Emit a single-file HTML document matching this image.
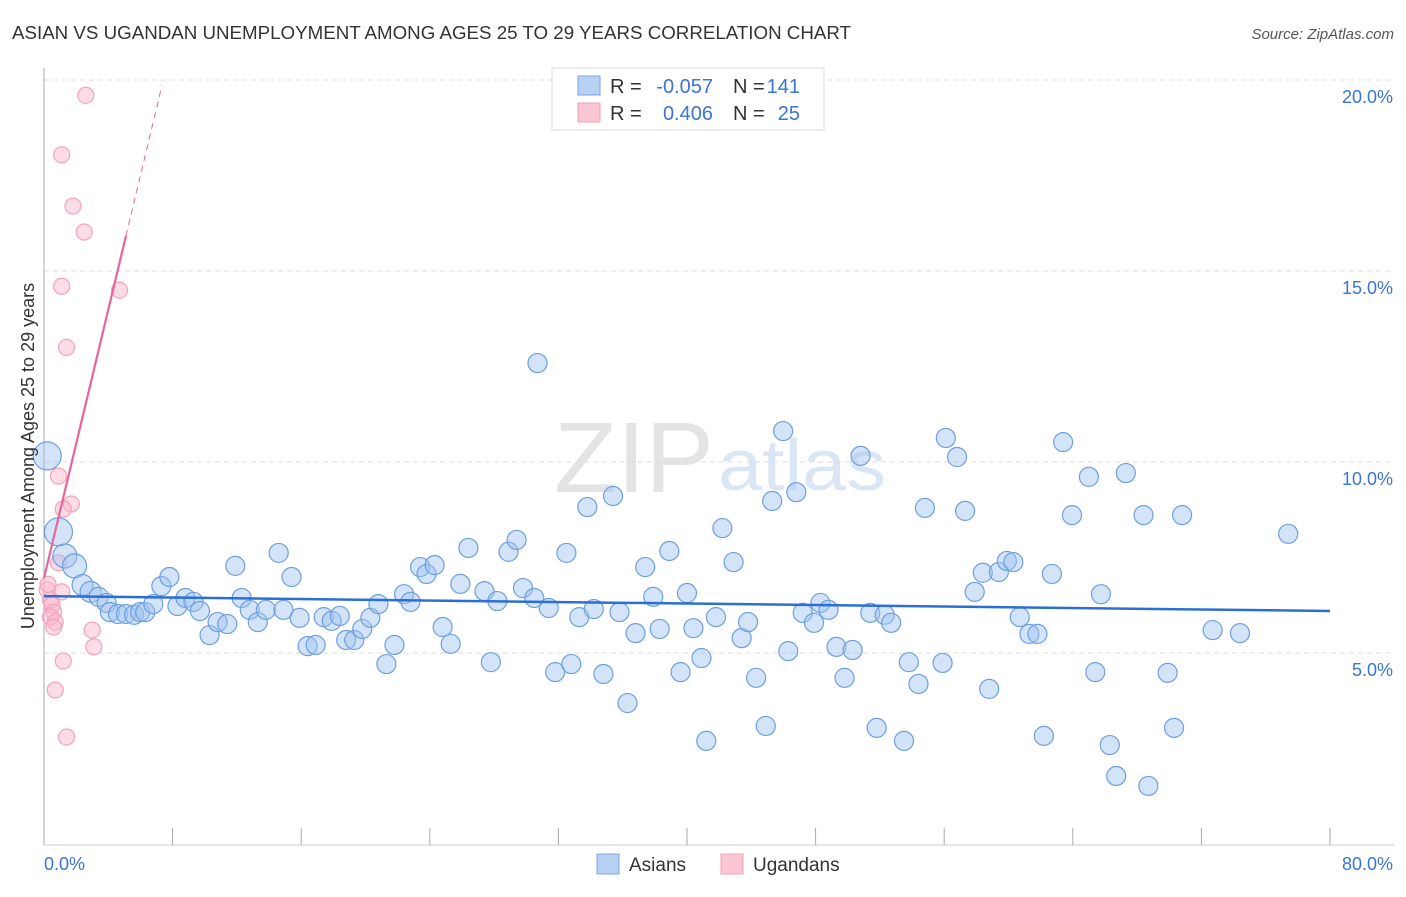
<!DOCTYPE html>
<html><head><meta charset="utf-8"><style>
body{margin:0;background:#fff;font-family:"Liberation Sans",sans-serif;}
svg text{font-family:"Liberation Sans",sans-serif;}
</style></head><body>
<svg id="chart" width="1406" height="892" xmlns="http://www.w3.org/2000/svg">
<text x="12" y="39" font-size="18" fill="#333" textLength="839" lengthAdjust="spacingAndGlyphs">ASIAN VS UGANDAN UNEMPLOYMENT AMONG AGES 25 TO 29 YEARS CORRELATION CHART</text>
<text x="1394" y="39" font-size="15" fill="#555" text-anchor="end" font-style="italic">Source: ZipAtlas.com</text>
<text x="714" y="492" font-size="100" fill="#e4e4e4" text-anchor="end" font-family="Liberation Serif" textLength="160" lengthAdjust="spacingAndGlyphs">ZIP</text>
<text x="718" y="490" font-size="72" fill="#dbe6f5" textLength="168" lengthAdjust="spacingAndGlyphs">atlas</text>
<g id="grid"></g><g id="axes"></g><g id="pink"></g><g id="blue"></g><g id="lines"></g>
<text transform="translate(34,456) rotate(-90)" font-size="18" fill="#333" text-anchor="middle">Unemployment Among Ages 25 to 29 years</text>
<text x="44" y="870" font-size="18" fill="#3a74d8">0.0%</text>
<text x="1393" y="870" font-size="18" fill="#3a74d8" text-anchor="end">80.0%</text>
<g>
<rect x="552" y="68" width="272" height="62" fill="#fff" stroke="#ddd"/>
<rect x="578" y="76" width="22" height="19" fill="#b8d1f3" stroke="#7aa6e6"/>
<rect x="578" y="103" width="22" height="19" fill="#fac6d4" stroke="#f0a0b8"/>
<text x="610" y="93" font-size="20" fill="#333">R =</text>
<text x="713" y="93" font-size="20" fill="#3a74d8" text-anchor="end">-0.057</text>
<text x="733" y="93" font-size="20" fill="#333">N =</text>
<text x="800" y="93" font-size="20" fill="#3a74d8" text-anchor="end">141</text>
<text x="610" y="120" font-size="20" fill="#333">R =</text>
<text x="713" y="120" font-size="20" fill="#3a74d8" text-anchor="end">0.406</text>
<text x="733" y="120" font-size="20" fill="#333">N =</text>
<text x="800" y="120" font-size="20" fill="#3a74d8" text-anchor="end">25</text>
</g>
<g><rect x="597" y="854" width="22" height="20" fill="#b8d1f3" stroke="#7aa6e6"/><text x="629" y="871" font-size="19" fill="#333">Asians</text></g>
<g><rect x="721" y="854" width="22" height="20" fill="#fac6d4" stroke="#f0a0b8"/><text x="753" y="871" font-size="19" fill="#333">Ugandans</text></g>
</svg>
<script>
const yTicks=[5,10,15,20];
const xTicks=[0,8,16,24,32,40,48,56,64,72,80];
const blueX=[0.2,0.9,1.3,1.9,2.4,2.9,3.4,3.9,4.1,4.6,5.1,5.6,5.98,6.3,6.8,7.3,7.8,8.3,8.8,9.3,9.7,10.3,10.8,11.4,11.9,12.3,12.8,13.3,13.8,14.6,14.9,15.4,15.9,16.4,16.9,17.4,17.9,18.4,18.8,19.3,19.8,20.3,20.8,21.3,21.8,22.4,22.8,23.4,23.8,24.3,24.8,25.3,25.9,26.4,27.4,27.8,28.2,28.9,29.4,29.8,30.5,30.7,31.4,31.8,32.5,32.8,33.3,33.8,34.2,34.8,35.4,35.8,36.3,36.8,37.4,37.9,38.3,38.9,39.6,40.0,40.4,40.9,41.2,41.8,42.2,42.9,43.4,43.8,44.3,44.9,45.3,45.98,46.3,46.8,47.2,47.9,48.3,48.8,49.3,49.8,50.3,50.8,51.4,51.8,52.3,52.7,53.5,53.8,54.4,54.8,55.9,56.1,56.8,57.3,57.9,58.4,58.8,59.4,59.9,60.3,60.7,61.3,61.8,62.2,62.7,63.4,63.95,65.0,65.4,65.75,66.3,66.7,67.3,68.4,68.7,69.9,70.3,70.8,72.7,74.4,77.4];
const blueY=[10.16,8.17,7.54,7.28,6.78,6.6,6.47,6.31,6.07,6.02,6.02,6.0,6.07,6.07,6.28,6.75,6.99,6.23,6.44,6.34,6.1,5.47,5.81,5.76,7.28,6.44,6.13,5.81,6.13,7.62,6.13,6.99,5.92,5.18,5.21,5.94,5.84,5.97,5.34,5.34,5.63,5.92,6.28,4.71,5.21,6.54,6.34,7.25,7.07,7.3,5.68,5.24,6.81,7.75,6.62,4.76,6.36,7.65,7.96,6.7,6.44,12.59,6.18,4.5,7.62,4.71,5.94,8.82,6.15,4.45,9.11,6.07,3.69,5.52,7.25,6.47,5.63,7.67,4.5,6.57,5.65,4.87,2.7,5.94,8.27,7.38,5.39,5.81,4.35,3.09,8.98,10.81,5.05,9.21,6.05,5.79,6.31,6.13,5.16,4.35,5.08,10.16,6.05,3.04,6.0,5.79,2.7,4.76,4.19,8.8,4.74,10.63,10.13,8.72,6.6,7.1,4.06,7.12,7.41,7.38,5.94,5.5,5.5,2.83,7.07,10.52,8.61,9.61,4.5,6.54,2.59,1.78,9.71,8.61,1.52,4.48,3.04,8.61,5.6,5.52,8.12];
const pinkX=[2.6,1.1,1.8,2.5,1.1,4.7,1.4,0.9,1.7,1.2,0.9,0.2,1.1,0.4,0.5,0.6,0.4,0.7,0.6,3.0,3.1,1.2,0.7,1.4,0.25];
const pinkY=[19.6,18.04,16.7,16.02,14.6,14.5,13.0,9.63,8.9,8.77,7.36,6.65,6.6,6.39,6.26,6.07,5.94,5.81,5.68,5.6,5.16,4.79,4.03,2.8,6.8];
const blueTrend=[6.49,6.10];
const pinkTrend=[6.96,1.757];
const NS='http://www.w3.org/2000/svg';
const X=v=>44+v*16.075, Y=v=>80+(20-v)*38.2;
function mk(tag,attrs,parent){const e=document.createElementNS(NS,tag);for(const k in attrs)e.setAttribute(k,attrs[k]);document.getElementById(parent).appendChild(e);return e;}
yTicks.forEach(t=>{
 const l=mk('line',{x1:44,x2:1394,y1:Y(t),y2:Y(t),stroke:'#ddd','stroke-dasharray':'5,4'},'grid');
 
 
 const tx=mk('text',{x:1393,y:Y(t)+23,'font-size':18,fill:'#3a74d8','text-anchor':'end'},'grid');
 tx.textContent=t.toFixed(1)+'%';
 
 
});
const ax=mk('line',{x1:44,x2:44,y1:68,y2:845,stroke:'#aaa'},'axes');


const bx=mk('line',{x1:44,x2:1394,y1:845,y2:845,stroke:'#ccc'},'axes');


xTicks.forEach(t=>{
 const l=mk('line',{x1:X(t),x2:X(t),y1:828,y2:845,stroke:'#aaa'},'axes');
 
 
});
pinkX.forEach((x,i)=>{
 const c=mk('circle',{cx:X(x),cy:Y(pinkY[i]),r:8,fill:'rgba(248,180,200,0.45)',stroke:'#f2a3bb','stroke-width':1.2},'pink');
 
 
});
blueX.forEach((x,i)=>{
 const r=x<1?14:(x<2?12:(x<3?10.5:9.5));
 const c=mk('circle',{cx:X(x),cy:Y(blueY[i]),r:r,fill:'rgba(160,196,240,0.45)',stroke:'#6d9fe0','stroke-width':1.2},'blue');
 
 
});
const bl=mk('line',{x1:X(0),y1:Y(blueTrend[0]),x2:X(80),y2:Y(blueTrend[1]),stroke:'#2a6fd6','stroke-width':2.5},'lines');


const pe=5.1, pd=7.34;
const pl=mk('line',{x1:X(0),y1:Y(pinkTrend[0]),x2:X(pe),y2:Y(pinkTrend[0]+pinkTrend[1]*pe),stroke:'#e8649a','stroke-width':2.2},'lines');


const pdl=mk('line',{x1:X(pe),y1:Y(pinkTrend[0]+pinkTrend[1]*pe),x2:X(pd),y2:Y(pinkTrend[0]+pinkTrend[1]*pd),stroke:'#e8649a','stroke-width':1,'stroke-dasharray':'6,5'},'lines');


</script>
</body></html>
